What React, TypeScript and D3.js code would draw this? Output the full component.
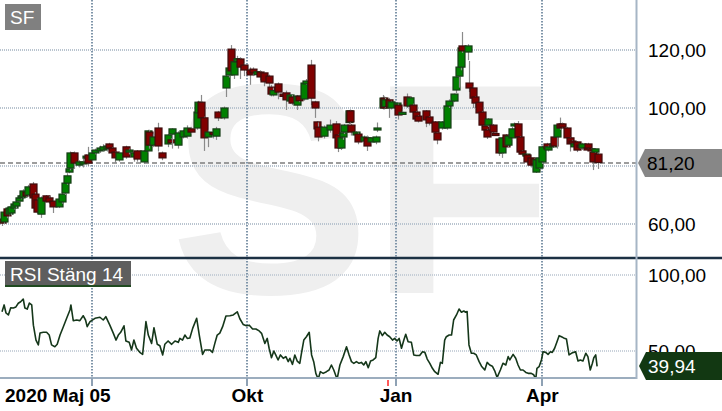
import React from "react";
import * as d3 from "d3";

// chart size
const W = 722;
const H = 411;
const plotRight = 636;

// x is the trading day since 2020-05-05 (day 0)
const startLabel = "2020 Maj 05";
const monthTickDays = [38, 104, 167, 229];
const monthTickLabels = ["", "Okt", "Jan", "Apr"];
const yearMarkDay = 163.5;

// visible candles
const candleDay = [
  0, 1, 2, 3, 4, 5, 6, 7, 8, 9,
  10, 11, 13, 14, 15, 16.5, 18.5, 20, 21.5, 24,
  25.5, 26.5, 27.5, 28.5, 29, 30.5, 32.5, 34.5, 35.5, 36.5,
  38, 39.5, 41.5, 43, 44.5, 45.5, 46.5, 48, 49.5, 52.5,
  54, 56, 57, 60, 62, 62.5, 64, 66, 68, 70.5,
  71.5, 72, 74.5, 76.5, 78.5, 80, 82.5, 83, 84.5, 85.5,
  87.5, 89.5, 90.5, 91.5, 94, 95, 96, 97, 98.5, 99.5,
  101, 102.5, 105, 106.5, 108, 109.5, 111, 113, 114, 115,
  117, 119, 120.5, 122, 123, 125, 126, 128, 129, 131,
  132.5, 133.5, 134, 136.5, 139, 141.5, 142.5, 143.5, 144.5, 145,
  147, 147.5, 148, 150, 151, 153.5, 154.5, 156.5, 158.5, 159,
  161.5, 162, 162.5, 164, 165, 167.5, 168, 169.5, 171.5, 173,
  174, 175.5, 176.5, 179.5, 181, 183.5, 184.5, 186.5, 188.5, 189.5,
  191.5, 192.5, 193.5, 194.5, 195, 197.5, 198, 199.5, 200.5, 202,
  203.5, 204.5, 205.5, 206, 208, 209, 210.5, 212, 213.5, 214.5,
  216, 217, 218.5, 219.5, 220.5, 222, 222.5, 224, 225.5, 226.5,
  227.5, 229, 231, 231.5, 233.5, 234, 235, 236.5, 237.5, 239.5,
  240.5, 241.5, 242.5, 243.5, 245, 246, 248, 248.5, 249.5, 250.5,
  251.5, 252.5,
];

const opens = [
  61.7, 60.7, 65.2, 63.4, 63.8, 65.5, 66.2, 67.9, 69.0, 69.3,
  71.0, 70.0, 73.8, 70.3, 68.3, 63.4, 69.7, 69.0, 67.9, 65.9,
  67.6, 70.7, 74.1, 77.9, 79.3, 84.5, 80.3, 80.7, 82.8, 83.8,
  82.1, 84.5, 85.2, 85.5, 85.9, 87.6, 86.2, 84.8, 82.1, 86.6,
  84.8, 83.1, 85.2, 81.4, 85.2, 91.7, 87.2, 93.1, 84.5, 87.6,
  89.0, 91.0, 87.2, 90.0, 90.3, 92.8, 93.1, 98.3, 102.0, 96.6,
  90.0, 91.5, 90.3, 98.6, 96.6, 106.9, 111.4, 120.3, 111.4, 116.0,
  116.9, 114.8, 113.1, 113.4, 111.5, 112.4, 112.1, 111.0, 107.2, 104.5,
  108.3, 104.8, 105.2, 102.4, 103.8, 101.0, 104.1, 103.1, 108.3, 114.8,
  102.1, 95.2, 93.4, 90.3, 92.4, 94.5, 90.7, 86.2, 90.0, 91.7,
  95.0, 99.0, 94.1, 90.7, 91.0, 88.6, 89.7, 88.3, 88.3, 93.0,
  100.0, 103.4, 100.5, 102.8, 100.0, 100.3, 101.0, 98.3, 103.8, 100.7,
  101.0, 98.6, 97.2, 99.0, 96.9, 95.2, 91.4, 93.1, 93.1, 100.7,
  102.4, 106.2, 111.0, 114.1, 121.4, 119.3, 108.6, 106.9, 103.8, 102.0,
  98.6, 93.8, 92.4, 94.1, 94.1, 91.2, 89.3, 84.5, 90.7, 87.2,
  89.7, 93.8, 94.5, 90.0, 85.2, 83.5, 83.8, 82.8, 82.4, 77.9,
  79.3, 81.4, 87.6, 85.5, 86.6, 90.0, 90.0, 94.5, 94.5, 93.1,
  89.7, 88.6, 86.6, 88.3, 87.2, 86.2, 86.2, 87.6, 85.9, 84.8,
  84.8, 84.1,
];

const highs = [
  62.5, 64.5, 65.8, 66.0, 66.5, 67.2, 68.5, 70.0, 70.5, 72.0,
  71.5, 73.5, 74.5, 71.0, 68.8, 69.5, 70.0, 69.5, 68.5, 69.0,
  71.0, 74.5, 77.5, 79.5, 85.0, 85.0, 82.0, 82.5, 84.0, 86.6,
  85.0, 86.0, 87.0, 87.5, 87.5, 88.0, 86.5, 85.0, 85.0, 87.0,
  86.0, 85.0, 85.5, 85.5, 92.5, 92.5, 91.0, 94.9, 85.0, 91.0,
  89.5, 93.0, 92.0, 92.5, 94.0, 93.5, 99.0, 102.5, 104.5, 97.0,
  92.5, 92.0, 93.5, 99.0, 100.5, 111.5, 114.5, 121.7, 117.0, 118.0,
  117.5, 115.5, 114.0, 114.0, 113.0, 113.0, 112.5, 111.5, 108.0, 107.0,
  108.8, 105.5, 106.0, 105.0, 104.5, 104.5, 104.5, 109.0, 110.0, 116.6,
  102.5, 95.5, 95.0, 94.0, 96.0, 95.5, 91.0, 90.0, 92.0, 94.5,
  99.3, 99.5, 94.5, 92.0, 91.5, 90.5, 90.5, 90.0, 90.5, 95.0,
  104.5, 104.0, 103.5, 103.5, 102.5, 102.0, 101.5, 99.0, 105.0, 104.0,
  101.5, 99.0, 97.5, 99.3, 97.2, 95.5, 91.7, 95.5, 101.0, 103.0,
  105.0, 111.0, 114.5, 121.0, 126.2, 122.0, 116.2, 107.5, 104.0, 102.5,
  99.0, 94.0, 92.8, 96.5, 94.5, 91.5, 89.7, 90.0, 91.0, 90.5,
  93.5, 95.0, 95.5, 90.3, 85.5, 84.5, 84.0, 83.0, 82.8, 82.5,
  83.0, 87.0, 88.0, 87.0, 88.0, 90.3, 94.5, 96.7, 95.0, 93.5,
  90.0, 89.0, 88.0, 88.6, 87.5, 88.0, 86.6, 88.0, 86.2, 85.2,
  86.2, 84.5,
];

const lows = [
  59.3, 60.0, 62.0, 63.0, 63.0, 65.0, 65.5, 67.5, 68.5, 69.0,
  69.3, 69.5, 68.5, 65.0, 63.5, 62.1, 67.5, 67.0, 63.8, 65.5,
  67.0, 70.0, 73.5, 77.5, 78.5, 79.0, 79.5, 79.5, 82.0, 80.0,
  81.5, 84.0, 84.5, 85.0, 85.0, 85.5, 84.0, 81.0, 81.5, 82.5,
  84.0, 81.5, 81.5, 80.7, 84.5, 86.0, 86.5, 85.0, 82.0, 86.5,
  87.5, 86.0, 86.0, 89.5, 89.5, 91.0, 92.5, 97.5, 95.5, 85.2,
  86.5, 89.5, 89.0, 95.5, 96.0, 103.8, 110.5, 111.5, 110.0, 115.0,
  110.0, 111.0, 108.0, 111.0, 111.0, 109.5, 107.5, 107.0, 104.0, 104.0,
  103.0, 103.0, 99.3, 101.5, 101.0, 99.3, 102.0, 102.5, 108.0, 101.0,
  96.6, 92.0, 88.5, 89.5, 91.5, 88.6, 84.8, 85.5, 89.0, 91.0,
  94.5, 94.5, 90.5, 90.0, 87.5, 87.0, 85.2, 87.5, 87.5, 91.7,
  99.5, 99.5, 100.0, 96.6, 99.5, 99.5, 96.0, 98.0, 100.0, 100.0,
  98.0, 95.5, 95.0, 93.4, 94.0, 91.0, 87.5, 92.5, 92.5, 100.0,
  102.0, 105.0, 107.0, 113.0, 119.0, 116.5, 105.5, 100.0, 100.0, 97.5,
  93.5, 92.0, 89.3, 93.5, 91.0, 90.5, 83.5, 82.8, 86.0, 86.5,
  89.0, 93.5, 89.5, 84.0, 83.5, 83.0, 80.5, 79.5, 80.0, 77.6,
  79.0, 80.7, 85.5, 85.0, 86.2, 86.5, 86.0, 92.5, 93.0, 89.3,
  85.0, 87.5, 86.0, 84.8, 86.0, 85.5, 85.5, 85.5, 85.0, 78.6,
  84.5, 79.0,
];

const closes = [
  60.3, 64.1, 62.8, 65.5, 65.9, 66.9, 67.6, 69.0, 69.7, 71.4,
  69.7, 72.8, 69.0, 65.5, 64.1, 69.0, 67.9, 67.6, 65.9, 68.6,
  70.3, 74.1, 76.6, 79.0, 84.5, 81.0, 81.4, 81.4, 83.4, 81.0,
  84.5, 85.5, 86.2, 86.6, 86.9, 86.2, 84.5, 82.8, 84.5, 83.1,
  85.5, 84.5, 82.4, 85.2, 92.1, 87.2, 90.0, 86.9, 82.8, 90.7,
  88.0, 92.8, 91.4, 92.1, 93.1, 91.7, 98.6, 102.0, 96.6, 89.7,
  91.7, 91.0, 92.8, 96.6, 100.0, 111.0, 113.8, 112.8, 115.9, 117.0,
  114.1, 113.1, 111.4, 112.1, 112.5, 110.7, 109.0, 108.6, 104.8, 106.0,
  105.5, 104.0, 102.8, 104.5, 101.7, 104.1, 102.5, 108.6, 109.3, 103.4,
  100.0, 92.8, 90.0, 93.4, 94.1, 89.7, 86.2, 89.7, 91.4, 94.1,
  99.0, 95.2, 91.7, 91.7, 88.3, 90.0, 86.9, 89.7, 90.0, 93.1,
  103.4, 100.0, 102.8, 100.3, 102.1, 101.7, 97.6, 98.5, 100.7, 103.5,
  98.6, 96.2, 95.5, 95.9, 94.8, 91.7, 89.0, 95.2, 100.7, 102.4,
  104.8, 110.7, 114.1, 120.7, 119.7, 121.4, 106.9, 103.4, 101.7, 98.3,
  94.1, 92.4, 90.0, 96.2, 91.7, 91.0, 84.5, 89.7, 86.6, 90.3,
  92.8, 94.5, 90.0, 84.8, 84.1, 84.1, 81.4, 80.3, 80.7, 82.1,
  82.8, 86.6, 85.9, 86.6, 87.6, 86.9, 94.1, 93.1, 93.4, 89.7,
  87.6, 88.1, 87.6, 85.5, 86.6, 87.6, 85.9, 86.2, 85.2, 81.4,
  85.9, 81.2,
];

// RSI (close, 14)
const rsiDay = [
  0, 0.9, 1.7, 2.7, 3.7, 4.8, 5.9, 6.9, 7.9, 9.0, 9.7, 10.7, 11.6, 12.6, 13.3, 14.4, 15.4, 16.1, 17.5, 18.9,
  20.0, 21.0, 22.4, 23.4, 24.6, 26.0, 27.4, 28.8, 29.2, 30.2, 31.6, 33.0, 34.4, 35.4, 36.1, 37.3, 39.4, 41.5, 42.9, 44.0,
  45.7, 47.2, 48.3, 49.3, 50.3, 51.7, 52.5, 53.9, 54.9, 55.9, 57.0, 58.4, 59.6, 61.0, 62.0, 63.4, 64.4, 65.8, 66.9, 68.1,
  69.0, 70.4, 71.9, 73.3, 74.7, 75.4, 76.5, 77.5, 78.5, 79.6, 80.8, 82.5, 83.6, 85.0, 86.0, 88.1, 89.2, 90.2, 91.2, 92.3,
  93.5, 94.9, 96.6, 98.0, 99.7, 100.8, 102.2, 103.6, 104.8, 106.2, 107.6, 109.0, 110.0, 111.4, 112.4, 113.2, 114.2, 115.2, 116.0, 117.0,
  118.0, 119.2, 120.3, 121.3, 122.0, 123.1, 124.1, 125.1, 126.2, 126.9, 127.9, 129.0, 130.2, 131.2, 132.1, 133.0, 134.0, 134.9, 136.1, 137.5,
  138.6, 139.6, 140.6, 142.0, 143.2, 144.6, 146.0, 147.1, 148.1, 149.1, 150.2, 151.3, 152.3, 153.3, 154.2, 155.2, 156.2, 157.3, 158.4, 159.4,
  160.1, 161.2, 162.2, 163.2, 164.3, 165.5, 166.4, 167.4, 168.3, 169.3, 170.3, 171.1, 172.1, 173.5, 174.5, 175.6, 177.0, 178.2, 179.2, 180.2,
  181.3, 182.4, 183.4, 184.8, 185.8, 186.6, 187.6, 188.3, 189.5, 190.5, 191.4, 192.6, 193.7, 194.7, 195.7, 196.5, 197.1, 197.9, 198.9, 199.9,
  201.0, 202.2, 203.2, 204.6, 205.6, 206.7, 207.8, 208.8, 209.8, 211.2, 212.3, 213.5, 214.5, 215.2, 216.6, 217.7, 218.7, 219.7, 220.8, 222.0,
  223.0, 224.3, 225.3, 226.2, 226.7, 227.6, 228.6, 229.3, 230.4, 231.4, 232.4, 233.2, 234.2, 235.2, 236.1, 237.1, 238.0, 239.2, 240.3, 241.3,
  242.3, 243.1, 244.1, 245.1, 246.2, 247.4, 248.3, 249.3, 250.2, 250.8, 251.6, 252.2,
];

const rsiValue = [
  75.8, 80.3, 75.0, 73.7, 78.5, 78.3, 79.0, 81.4, 82.4, 84.2, 78.3, 77.6, 81.5, 80.3, 67.0, 57.2, 54.0, 61.8, 62.3, 62.3,
  60.5, 54.0, 52.8, 54.4, 60.5, 66.0, 71.5, 77.0, 80.3, 69.9, 70.4, 70.0, 73.2, 70.4, 66.0, 69.3, 71.5, 72.2, 70.4, 72.6,
  67.0, 61.6, 57.2, 60.5, 62.3, 66.6, 56.6, 55.7, 50.7, 57.2, 51.8, 49.1, 47.8, 69.3, 60.5, 55.0, 65.3, 54.4, 53.5, 47.4,
  54.4, 56.6, 54.4, 56.6, 55.7, 58.3, 57.2, 60.5, 58.3, 58.6, 64.9, 71.5, 60.5, 47.8, 50.7, 50.7, 49.1, 55.0, 60.5, 61.8,
  66.0, 73.0, 73.2, 73.7, 75.8, 71.2, 67.5, 66.6, 67.0, 64.5, 64.5, 63.2, 61.6, 55.0, 58.3, 51.8, 45.6, 50.0, 47.4, 44.1,
  47.4, 45.2, 46.3, 43.0, 45.2, 41.2, 47.4, 43.4, 41.9, 48.5, 57.2, 59.4, 62.3, 47.4, 43.0, 35.3, 31.5, 36.4, 35.3, 36.4,
  37.5, 40.8, 37.5, 31.5, 40.8, 46.3, 52.8, 47.4, 43.0, 41.9, 43.0, 41.9, 42.5, 40.8, 43.0, 39.0, 43.4, 44.1, 45.6, 58.3,
  63.2, 60.1, 62.3, 60.5, 59.4, 57.2, 58.3, 56.6, 58.3, 51.8, 57.2, 61.0, 56.1, 55.7, 47.4, 47.0, 47.0, 49.5, 49.1, 44.7,
  41.9, 38.6, 36.4, 34.7, 42.5, 41.9, 57.2, 59.4, 60.5, 60.5, 70.4, 73.7, 77.6, 75.5, 76.3, 75.5, 76.0, 54.0, 48.5, 48.5,
  47.4, 43.0, 40.0, 37.5, 42.5, 40.8, 40.0, 37.0, 32.5, 37.5, 41.9, 40.8, 46.3, 44.1, 47.8, 45.2, 40.8, 37.5, 37.5, 35.9,
  35.3, 35.3, 34.4, 31.5, 38.6, 39.7, 44.1, 49.5, 49.1, 47.8, 49.5, 49.1, 51.8, 56.1, 60.1, 59.4, 58.6, 57.9, 47.4, 48.5,
  49.1, 49.5, 43.4, 44.1, 43.4, 48.5, 46.3, 37.5, 41.9, 45.6, 47.4, 39.94,
];

const priceTicks = [60, 80, 100, 120];
const rsiTicks = [50, 100];

const font = "'Liberation Sans', Arial, sans-serif";
const fmt = (v: number) => d3.format(".2f")(v).replace(".", ",");

const App: React.FC = () => {
  const x = d3.scaleLinear().domain([0, 253]).range([2, 599]);
  const yPrice = d3.scaleLinear().domain([60, 120]).range([224, 50]);
  const yRsi = d3.scaleLinear().domain([50, 100]).range([351, 275]);

  const rsiLine = d3
    .line<number>()
    .x((_, i) => x(rsiDay[i]))
    .y((v) => yRsi(v));

  const lastPrice = closes[closes.length - 1];
  const lastRsi = rsiValue[rsiValue.length - 1];
  const yp = Math.round(yPrice(lastPrice));
  const yr = Math.round(yRsi(lastRsi));

  const n = Math.min(candleDay.length, opens.length, highs.length, lows.length, closes.length);

  // price labels that sit fully under the last-price marker are hidden, as in the original
  const shownPriceTicks = priceTicks.filter((p) => Math.abs(yPrice(p) - yp) > 12);

  return (
    <svg
      width={W}
      height={H}
      style={{ position: "absolute", left: 0, top: 0, display: "block", background: "#fff" }}
      fontFamily={font}
    >
      <defs>
        <clipPath id="pricePanel">
          <rect x={0} y={0} width={plotRight} height={257} />
        </clipPath>
        <clipPath id="rsiPanel">
          <rect x={0} y={259} width={plotRight} height={119} />
        </clipPath>
      </defs>

      {/* watermark */}
      <text x={170} y={293} fontSize={300} fontWeight="bold" fill="#efefef">
        SF
      </text>

      {/* horizontal grid */}
      {priceTicks.map((p) => (
        <line key={"pg" + p} x1={0} x2={plotRight} y1={Math.round(yPrice(p))} y2={Math.round(yPrice(p))}
          stroke="#b9c4cf" strokeWidth={2} strokeDasharray="1,1" />
      ))}
      {rsiTicks.map((p) => (
        <line key={"rg" + p} x1={0} x2={plotRight} y1={Math.round(yRsi(p))} y2={Math.round(yRsi(p))}
          stroke="#b9c4cf" strokeWidth={1.5} strokeDasharray="1,1" />
      ))}

      {/* vertical grid */}
      {monthTickDays.map((d) => (
        <line key={"vg" + d} x1={Math.round(x(d))} x2={Math.round(x(d))} y1={0} y2={378}
          stroke="#7f95a9" strokeWidth={2} strokeDasharray="1.5,1.5" />
      ))}

      {/* last price */}
      <line x1={0} x2={plotRight} y1={yp} y2={yp} stroke="#7d7d7d" strokeWidth={1.5} strokeDasharray="5,3" />

      {/* candles */}
      <g clipPath="url(#pricePanel)">
        {d3.range(n).map((i) => {
          const cx = Math.round(x(candleDay[i])) + 0.5;
          const o = opens[i];
          const c = closes[i];
          const up = c >= o;
          const top = yPrice(Math.max(o, c));
          const bot = yPrice(Math.min(o, c));
          return (
            <g key={i}>
              <line x1={cx} x2={cx} y1={yPrice(highs[i])} y2={yPrice(lows[i])} stroke="#8a8a8a" strokeWidth={1.2} />
              <rect
                x={cx - 3.5}
                y={top}
                width={7}
                height={Math.max(bot - top, 2)}
                fill={up ? "#008000" : "#800000"}
                stroke={up ? "#173d17" : "#3d0c0c"}
                strokeWidth={1.2}
              />
            </g>
          );
        })}
      </g>

      {/* RSI */}
      <g clipPath="url(#rsiPanel)">
        <path d={rsiLine(rsiValue) || ""} fill="none" stroke="#15371a" strokeWidth={1.6} strokeLinejoin="round" />
      </g>

      {/* frame */}
      <line x1={0} x2={W} y1={258} y2={258} stroke="#1c3144" strokeWidth={2.5} />
      <line x1={0} x2={plotRight + 1} y1={378} y2={378} stroke="#9cadbe" strokeWidth={2} />
      <line x1={plotRight + 0.5} x2={plotRight + 0.5} y1={0} y2={379} stroke="#a6b5c5" strokeWidth={2} />

      {/* axis ticks */}
      {monthTickDays.map((d) => (
        <line key={"t" + d} x1={Math.round(x(d))} x2={Math.round(x(d))} y1={378} y2={386} stroke="#8ea1b4" strokeWidth={2} />
      ))}
      <line x1={Math.round(x(yearMarkDay))} x2={Math.round(x(yearMarkDay))} y1={380} y2={386} stroke="#ff5a5a" strokeWidth={2} />

      {/* x labels */}
      <text x={5} y={402} fontSize={19} fontWeight="bold" fill="#000">{startLabel}</text>
      {monthTickDays.map((d, i) =>
        monthTickLabels[i] ? (
          <text key={"xl" + d} x={x(d)} y={402} fontSize={19} fontWeight="bold" textAnchor="middle" fill="#000">
            {monthTickLabels[i]}
          </text>
        ) : null
      )}

      {/* right labels */}
      {shownPriceTicks.map((p) => (
        <text key={"pl" + p} x={648} y={yPrice(p) + 7} fontSize={19} fill="#000">{fmt(p)}</text>
      ))}
      {rsiTicks.map((p) => (
        <text key={"rl" + p} x={648} y={yRsi(p) + 7} fontSize={19} fill="#000">{fmt(p)}</text>
      ))}

      {/* last value markers */}
      <polygon
        points={`638,${yp} 645,${yp - 14} ${W},${yp - 14} ${W},${yp + 14} 645,${yp + 14}`}
        fill="#878787"
      />
      <text x={647} y={yp + 7} fontSize={19} fill="#000">{fmt(lastPrice)}</text>
      <polygon
        points={`639,${yr} 646,${yr - 14} ${W},${yr - 14} ${W},${yr + 14} 646,${yr + 14}`}
        fill="#123812"
      />
      <text x={648} y={yr + 7} fontSize={19} fill="#fff">{fmt(lastRsi)}</text>

      {/* panel titles */}
      <rect x={5} y={4} width={36} height={26} fill="#808080" />
      <text x={10} y={24} fontSize={19} fill="#fff">SF</text>
      <rect x={5} y={261} width={126} height={26} fill="#5e5e5e" />
      <line x1={5} x2={131} y1={286} y2={286} stroke="#1f4a1f" strokeWidth={2} />
      <text x={10} y={281} fontSize={19} fill="#fff">RSI Stäng 14</text>
    </svg>
  );
};

export default App;
